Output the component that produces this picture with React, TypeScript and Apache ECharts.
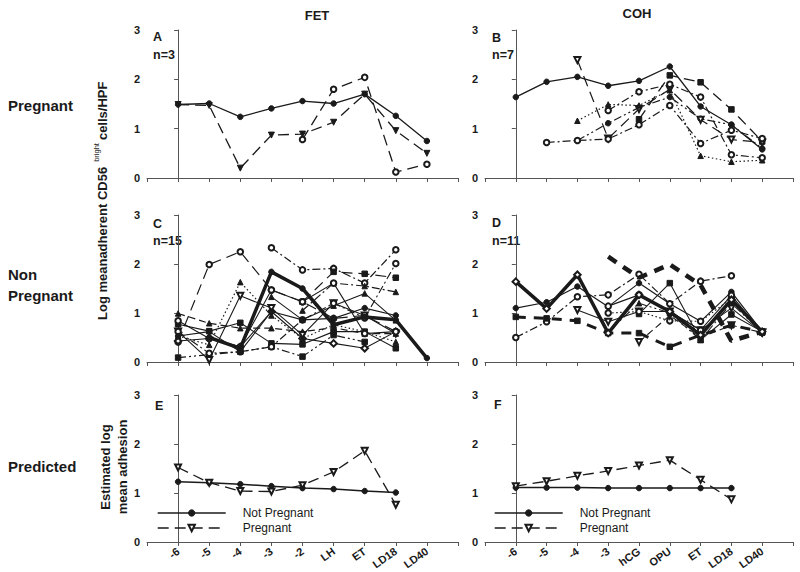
import React, { useEffect, useRef } from 'react';
import * as echarts from 'echarts';

const fetLabels = ['-6', '-5', '-4', '-3', '-2', 'LH', 'ET', 'LD18', 'LD40'];
const cohLabels = ['-6', '-5', '-4', '-3', 'hCG', 'OPU', 'ET', 'LD18', 'LD40'];

// Panel A – FET pregnant (n=3)
const a1 = [1.49, 1.51, 1.24, 1.41, 1.56, 1.51, 1.70, 1.26, 0.75];
const a2 = [1.49, 1.47, 0.20, 0.87, 0.89, 1.13, 1.70, 0.96, 0.50];
const a3 = [null, null, null, null, 0.78, 1.80, 2.04, 0.12, 0.28];

// Panel B – COH pregnant (n=7)
const b1 = [1.64, 1.95, 2.05, 1.87, 1.97, 2.26, 1.45, 1.08, 0.58];
const b2 = [null, null, null, null, 1.19, 2.08, 1.94, 1.39, 0.74];
const b3 = [null, null, 0.76, 1.11, 1.43, 1.64, 1.20, 1.08, 0.60];
const b4 = [null, null, 2.39, 0.80, 1.40, 1.80, 1.18, 0.78, 0.72];
const b5 = [null, null, 1.16, 1.49, 1.47, 1.78, 0.45, 0.33, 0.36];
const b6 = [null, 0.72, 0.76, 0.79, 1.08, 1.47, 0.70, 0.97, 0.80];
const b7 = [null, null, null, 1.37, 1.75, 1.90, 1.64, 0.47, 0.41];

// Panel C – FET non pregnant (n=15)
const c1 = [null, 0.50, 0.28, 1.84, 1.50, 0.76, 0.92, 0.86, 0.08];
const c2 = [0.41, 1.99, 2.25, 1.47, 1.23, 0.89, 0.95, 0.62, null];
const c3 = [null, null, null, 2.33, 1.88, 1.91, 1.61, 2.29, null];
const c4 = [null, null, null, null, 1.23, 1.84, 1.80, 1.72, null];
const c5 = [null, null, null, null, 1.05, 1.61, 1.55, 1.43, null];
const c6 = [null, null, null, 1.33, 0.86, 1.15, 1.40, 0.85, null];
const c7 = [0.99, 0.79, 0.69, 0.69, 0.62, 0.70, 0.58, 0.58, null];
const c8 = [0.09, 0.15, 0.21, 0.31, 0.11, 0.55, 0.41, null, null];
const c9 = [0.77, 0.63, 0.80, 0.38, 0.36, 0.62, 0.62, 0.28, null];
const c10 = [0.43, 0.48, 0.31, 1.03, 0.48, 0.38, 0.28, 0.62, null];
const c11 = [0.53, 0.35, 1.63, 0.95, 0.48, 0.76, 0.62, 0.41, null];
const c12 = [0.62, 0.04, 1.35, 1.10, 0.55, 1.20, 0.95, 0.58, null];
const c13 = [0.84, 0.48, 0.31, 1.47, 1.23, 1.61, 0.58, 0.62, null];
const c14 = [0.62, 0.18, 0.21, 0.31, 0.86, 1.20, 0.90, 2.01, null];
const c15 = [0.53, 0.62, 0.21, 1.03, 0.86, 0.89, 1.10, 0.95, null];

// Panel D – COH non pregnant (n=11)
const d1 = [1.64, 1.09, 1.78, 0.59, 1.37, 1.03, 0.55, 1.27, 0.62];
const d2 = [null, null, null, 2.15, 1.72, 1.99, 1.57, 0.43, 0.62];
const d3 = [0.92, 0.89, 0.84, 0.59, 0.59, 0.31, 0.55, 0.75, 0.62];
const d4 = [1.10, 1.22, 1.54, 1.13, 1.61, 1.19, 0.83, 1.43, 0.62];
const d5 = [0.50, 0.82, 1.33, 1.37, 1.79, 1.19, 1.65, 1.76, null];
const d6 = [null, null, 1.06, 0.82, 1.03, 1.03, 0.65, 1.10, 0.60];
const d7 = [null, null, null, null, 0.98, 1.61, 0.45, 0.97, 0.62];
const d8 = [null, null, null, 1.00, 1.03, 0.84, 0.83, 1.30, 0.60];
const d9 = [null, null, null, null, 0.41, 0.95, 0.50, 0.75, 0.60];
const d10 = [null, null, null, 0.62, 1.20, 1.00, 0.45, 1.20, 0.60];
const d11 = [null, null, null, 1.14, 1.37, 1.03, 0.65, 1.36, 0.60];

// Panels E/F – predicted
const eNotPregnant = [1.23, 1.21, 1.18, 1.14, 1.10, 1.08, 1.04, 1.01];
const ePregnant = [1.52, 1.21, 1.04, 1.03, 1.16, 1.43, 1.86, 0.76];
const fNotPregnant = [1.11, 1.11, 1.11, 1.10, 1.10, 1.10, 1.10, 1.10];
const fPregnant = [1.14, 1.24, 1.35, 1.45, 1.56, 1.67, 1.27, 0.87];

const DASH: any = {
  solid: 'solid',
  dash: [7, 4],
  longdash: [11, 6],
  dashdot: [8, 3, 2, 3],
  dot: [1.5, 2.5],
  dashdotdot: [8, 3, 2, 3, 2, 3],
  thickdash: [10, 8],
};
const SYM: any = {
  fc: { symbol: 'circle', size: 5.5, rotate: 0 },
  oc: { symbol: 'emptyCircle', size: 5.5, rotate: 0 },
  ft: { symbol: 'triangle', size: 6, rotate: 180 },
  ot: { symbol: 'emptyTriangle', size: 6, rotate: 180 },
  fu: { symbol: 'triangle', size: 5.5, rotate: 0 },
  fs: { symbol: 'rect', size: 5.5, rotate: 0 },
  od: { symbol: 'emptyDiamond', size: 6.5, rotate: 0 },
  none: { symbol: 'none', size: 0, rotate: 0 },
};

const panels: any[] = [
  [
    ['A1', a1, 'solid', 'fc', 1.3],
    ['A2', a2, 'longdash', 'ft', 1.3],
    ['A3', a3, 'longdash', 'oc', 1.3],
  ],
  [
    ['B1', b1, 'solid', 'fc', 1.3],
    ['B2', b2, 'longdash', 'fs', 1.3],
    ['B3', b3, 'dashdotdot', 'fc', 1.2],
    ['B4', b4, 'longdash', 'ot', 1.2],
    ['B5', b5, 'dot', 'fu', 1.2],
    ['B6', b6, 'dashdot', 'oc', 1.2],
    ['B7', b7, 'dashdot', 'oc', 1.2],
  ],
  [
    ['C2', c2, 'longdash', 'oc', 1.2],
    ['C3', c3, 'dashdot', 'oc', 1.2],
    ['C4', c4, 'longdash', 'fs', 1.2],
    ['C5', c5, 'dashdot', 'fu', 1.2],
    ['C6', c6, 'solid', 'fu', 1.1],
    ['C7', c7, 'dash', 'fu', 1.2],
    ['C8', c8, 'dashdotdot', 'fs', 1.2],
    ['C9', c9, 'solid', 'fs', 1.1],
    ['C10', c10, 'solid', 'od', 1.1],
    ['C11', c11, 'dot', 'fu', 1.2],
    ['C12', c12, 'solid', 'ot', 1.1],
    ['C13', c13, 'solid', 'oc', 1.1],
    ['C14', c14, 'dashdot', 'oc', 1.1],
    ['C15', c15, 'solid', 'fc', 1.1],
    ['C1', c1, 'solid', 'fc', 3.5],
  ],
  [
    ['D4', d4, 'solid', 'fc', 1.2],
    ['D5', d5, 'dashdot', 'oc', 1.2],
    ['D6', d6, 'solid', 'ot', 1.1],
    ['D7', d7, 'solid', 'fs', 1.1],
    ['D8', d8, 'dot', 'oc', 1.2],
    ['D9', d9, 'dash', 'ot', 1.1],
    ['D10', d10, 'dashdotdot', 'fu', 1.1],
    ['D11', d11, 'solid', 'oc', 1.1],
    ['D3', d3, 'thickdash', 'fs', 3],
    ['D2', d2, 'thickdash', 'none', 4.5],
    ['D1', d1, 'solid', 'od', 3.5],
  ],
  [
    ['Not Pregnant', eNotPregnant, 'solid', 'fc', 1.5],
    ['Pregnant', ePregnant, 'longdash', 'ot', 1.3],
  ],
  [
    ['Not Pregnant', fNotPregnant, 'solid', 'fc', 1.5],
    ['Pregnant', fPregnant, 'longdash', 'ot', 1.3],
  ],
];

const FONT = 'Arial, "Liberation Sans", sans-serif';
const INK = '#1a1a1a';

const grids = [
  { left: 147, top: 30, width: 311, height: 148 },
  { left: 485, top: 30, width: 308, height: 148 },
  { left: 147, top: 215, width: 311, height: 147 },
  { left: 485, top: 215, width: 308, height: 147 },
  { left: 147, top: 395, width: 311, height: 147 },
  { left: 485, top: 395, width: 308, height: 147 },
];

function measure(text: string, font: string) {
  const c = document.createElement('canvas').getContext('2d');
  if (!c) return text.length * 6;
  c.font = font;
  return c.measureText(text).width;
}

export default function App() {
  const ref = useRef<HTMLDivElement>(null);
  useEffect(() => {
    document.body.style.margin = '0';
    if (!ref.current) return;
    const chart = echarts.init(ref.current, undefined, { renderer: 'svg' });

    const xAxis = grids.map((_, i) => {
      const labels = i % 2 === 0 ? fetLabels : cohLabels;
      return {
        type: 'value',
        gridIndex: i,
        min: -1,
        max: 9,
        interval: 1,
        axisLine: { show: true, lineStyle: { color: '#555', width: 1 } },
        axisTick: { show: true, length: 4, lineStyle: { color: '#555' } },
        splitLine: { show: false },
        axisLabel: {
          show: i >= 4,
          rotate: 35,
          margin: 8,
          color: INK,
          fontFamily: FONT,
          fontWeight: 'bold',
          fontSize: 11,
          formatter: (v: number) => (labels[v] !== undefined ? labels[v] : ''),
        },
      };
    });
    const yAxis = grids.map((_, i) => ({
      type: 'value',
      gridIndex: i,
      min: 0,
      max: 3,
      interval: 1,
      axisLine: { show: true, lineStyle: { color: '#555', width: 1 } },
      axisTick: { show: true, length: 4, lineStyle: { color: '#555' } },
      splitLine: { show: false },
      axisLabel: { color: INK, fontFamily: FONT, fontWeight: 'bold', fontSize: 11, margin: 7 },
    }));

    const series: any[] = [];
    panels.forEach((list, gi) => {
      list.forEach((s: any) => {
        const [name, vals, dash, sym, w] = s;
        const sy = SYM[sym];
        series.push({
          type: 'line',
          name,
          xAxisIndex: gi,
          yAxisIndex: gi,
          data: vals.map((v: any, i: number) => (v == null ? null : [i, v])).filter((d: any) => d),
          symbol: sy.symbol,
          symbolSize: sy.size,
          symbolRotate: sy.rotate,
          showSymbol: sy.symbol !== 'none',
          lineStyle: { color: INK, width: w, type: DASH[dash] },
          itemStyle: { color: INK, borderColor: INK, borderWidth: 1 },
          z: w > 2 ? 5 : 3,
          silent: true,
        });
      });
    });

    const titleFont = `bold 13px ${FONT}`;
    const w1 = measure('Log meanadherent CD56', titleFont);
    const w2 = measure('bright', `7.5px ${FONT}`);

    const letter = (x: number, y: number, t: string) => ({
      type: 'text',
      x,
      y,
      style: { text: t, font: `bold 12.5px ${FONT}`, fill: INK, align: 'left', verticalAlign: 'middle' },
    });
    const rowLabel = (y: number, t: string) => ({
      type: 'text',
      x: 8,
      y,
      style: { text: t, font: `bold 15px ${FONT}`, fill: INK, align: 'left', verticalAlign: 'middle', lineHeight: 21 },
    });

    const graphic: any[] = [
      { type: 'text', x: 317, y: 15, style: { text: 'FET', font: `bold 13px ${FONT}`, fill: INK, align: 'center', verticalAlign: 'middle' } },
      { type: 'text', x: 637, y: 13, style: { text: 'COH', font: `bold 13px ${FONT}`, fill: INK, align: 'center', verticalAlign: 'middle' } },
      rowLabel(105, 'Pregnant'),
      rowLabel(285, 'Non\nPregnant'),
      rowLabel(466, 'Predicted'),
      {
        type: 'group',
        x: 102,
        y: 320,
        rotation: Math.PI / 2,
        children: [
          { type: 'text', x: 0, y: 0, style: { text: 'Log meanadherent CD56', font: titleFont, fill: INK, align: 'left', verticalAlign: 'middle' } },
          { type: 'text', x: w1 + 5, y: -6, style: { text: 'bright', font: `7.5px ${FONT}`, fill: INK, align: 'left', verticalAlign: 'middle' } },
          { type: 'text', x: w1 + w2 + 8, y: 0, style: { text: 'cells/HPF', font: titleFont, fill: INK, align: 'left', verticalAlign: 'middle' } },
        ],
      },
      {
        type: 'text',
        x: 114,
        y: 467,
        rotation: Math.PI / 2,
        style: { text: 'Estimated log\nmean adhesion', font: titleFont, fill: INK, align: 'center', verticalAlign: 'middle', lineHeight: 17 },
      },
      letter(153, 37, 'A'),
      letter(153, 55, 'n=3'),
      letter(492, 38, 'B'),
      letter(492, 55, 'n=7'),
      letter(153, 224, 'C'),
      letter(153, 241, 'n=15'),
      letter(492, 223, 'D'),
      letter(492, 241, 'n=11'),
      letter(155, 406, 'E'),
      letter(494, 405, 'F'),
    ];

    const legendBase = {
      data: ['Not Pregnant', 'Pregnant'],
      orient: 'vertical',
      top: 507,
      itemWidth: 68,
      itemHeight: 8,
      itemGap: 3,
      padding: 0,
      selectedMode: false,
      lineStyle: { width: 1.4 },
      itemStyle: { borderWidth: 1 },
      textStyle: { color: INK, fontFamily: FONT, fontSize: 12, padding: [0, 0, 0, 12] },
    };

    chart.setOption({
      animation: false,
      backgroundColor: '#fff',
      grid: grids,
      xAxis,
      yAxis,
      series,
      legend: [
        { ...legendBase, left: 157 },
        { ...legendBase, left: 494 },
      ],
      graphic,
    });
    return () => chart.dispose();
  }, []);
  return <div ref={ref} style={{ width: 800, height: 572 }} />;
}
